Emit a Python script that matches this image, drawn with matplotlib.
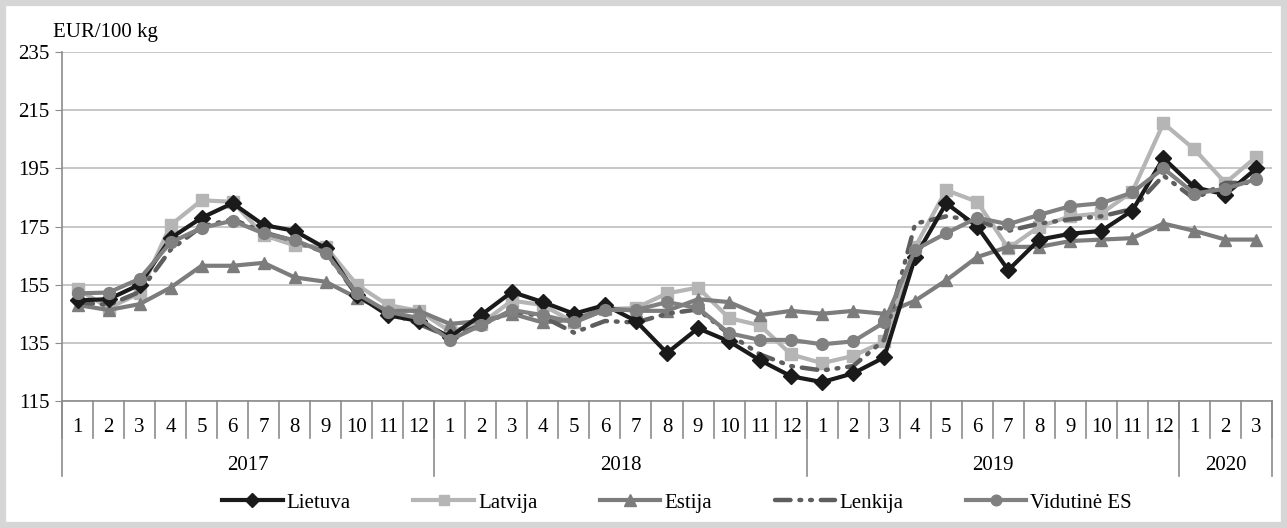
import matplotlib.pyplot as plt
import matplotlib.transforms as mtransforms
from matplotlib.patches import Rectangle

# month labels and year groups
months = [str(m) for m in range(1, 13)] * 3 + ["1", "2", "3"]
years = ["2017", "2018", "2019", "2020"]
year_len = [12, 12, 12, 3]

# prices, EUR/100 kg
lietuva = [149.6, 150, 155, 171, 178, 183, 175.5, 173.5, 167.5, 151.5, 144.5, 142.5,
           137, 144.5, 152.5, 149, 145, 148, 142.5, 131.5, 140, 135.5, 129, 123.5,
           121.5, 124.5, 130, 164.5, 183, 175, 160, 170.5, 172.5, 173.5, 180.5, 198.5,
           188.5, 186, 195]
latvija = [153.5, 147, 152, 175.5, 184, 183.5, 172, 168.5, 168, 155, 148, 146,
           139, 141.5, 149.5, 148, 142, 146.5, 147, 152, 154, 143.5, 141, 131,
           128, 130.5, 135.5, 168, 187.5, 183.5, 167.5, 175, 178.5, 179.5, 187, 210.5,
           201.5, 190, 199]
estija = [148, 146.3, 148.3, 154, 161.5, 161.5, 162.5, 157.5, 156, 150.5, 146, 146,
          141.5, 142.5, 145, 142, 143, 147, 146, 146, 150, 149, 144.5, 146,
          145, 146, 145, 149.5, 156.5, 164.5, 168, 168, 170, 170.5, 171, 176,
          173.5, 170.5, 170.5]
lenkija = [149, 148, 152.5, 167, 175, 177.5, 173, 170, 166, 151.5, 145.5, 141.5,
           137, 141, 146, 144, 138.5, 142.5, 142, 145, 146.5, 138, 131, 127,
           125.5, 127, 136, 176, 178.5, 177, 173.5, 176, 177.5, 178.5, 181, 192.5,
           184.5, 190, 190]
vidutine = [152, 152.3, 157, 169.5, 174.5, 177, 172.6, 170.3, 166, 152, 145.7, 143.5,
            136, 141, 146.3, 144.5, 142, 146.3, 146.3, 149, 147, 138.3, 136, 136,
            134.5, 135.5, 142, 167, 172.7, 178, 175.8, 179, 182, 183, 186.7, 195,
            186.3, 188, 191.3]

plt.rcParams['font.family'] = ['Liberation Serif', 'DejaVu Serif']
fs = 15

fig = plt.figure(figsize=(12.87, 5.28), dpi=100)
ax = fig.add_axes([62 / 1287, 1 - 401 / 528, 1210 / 1287, 349 / 528])

x = list(range(len(months)))
lw = 3.0
ax.plot(x, lietuva, color="#1a1a1a", lw=lw, marker="D", ms=8, label="Lietuva", zorder=5)
ax.plot(x, latvija, color="#b5b5b5", lw=lw, marker="s", ms=8, label="Latvija", zorder=3)
ax.plot(x, estija, color="#7c7c7c", lw=lw, marker="^", ms=9, label="Estija", zorder=3)
ax.plot(x, lenkija, color="#5e5e5e", lw=3.2, ls=(0, (3.5, 2, 0.4, 2, 0.4, 2)),
        dash_capstyle="round", label="Lenkija", zorder=4)
ax.plot(x, vidutine, color="#808080", lw=lw, marker="o", ms=8.5, label="Vidutinė ES", zorder=6)

ax.set_xlim(-0.5, len(months) - 0.5)
ax.set_ylim(115, 235)
ax.set_yticks(range(115, 236, 20))
ax.tick_params(axis="y", labelsize=fs, length=5, color="#8c8c8c", pad=4)
ax.grid(axis="y", color="#bdbdbd", lw=1.2)
ax.set_axisbelow(True)
for s in ["top", "right"]:
    ax.spines[s].set_visible(False)
ax.spines["left"].set_color("#8c8c8c")
ax.spines["bottom"].set_color("#8c8c8c")
ax.spines["left"].set_linewidth(1.2)
ax.spines["bottom"].set_linewidth(1.2)

ax.set_xticks(x)
ax.set_xticklabels(months, fontsize=fs)
ax.tick_params(axis="x", length=0, pad=12)

# category separators below the axis
trans = mtransforms.blended_transform_factory(ax.transData, ax.transAxes)
ax_h = 349.0
for i in range(len(months) + 1):
    ax.plot([i - 0.5, i - 0.5], [0, -37 / ax_h], color="#8c8c8c", lw=1.2,
            transform=trans, clip_on=False)
starts = [0]
for n in year_len:
    starts.append(starts[-1] + n)
for s in starts:
    ax.plot([s - 0.5, s - 0.5], [0, -75 / ax_h], color="#8c8c8c", lw=1.2,
            transform=trans, clip_on=False)
for yr, s, n in zip(years, starts[:-1], year_len):
    ax.text(s + n / 2 - 0.5, -64 / ax_h, yr, transform=trans, ha="center",
            va="center", fontsize=fs)

fig.text(53 / 1287, 1 - 33 / 528, "EUR/100 kg", fontsize=fs, va="center", ha="left")

fig.legend(loc="center", bbox_to_anchor=(677 / 1287, 1 - 503 / 528), ncol=5,
           frameon=False, fontsize=fs, handlelength=2.9, columnspacing=3.0,
           handletextpad=0.2, markerscale=0.9)

fig.patches.append(Rectangle((3 / 1287, 3 / 528), 1281 / 1287, 522 / 528,
                             transform=fig.transFigure, fill=False,
                             edgecolor="#d6d6d6", lw=4.5))

fig.savefig("out.png", dpi=100)
